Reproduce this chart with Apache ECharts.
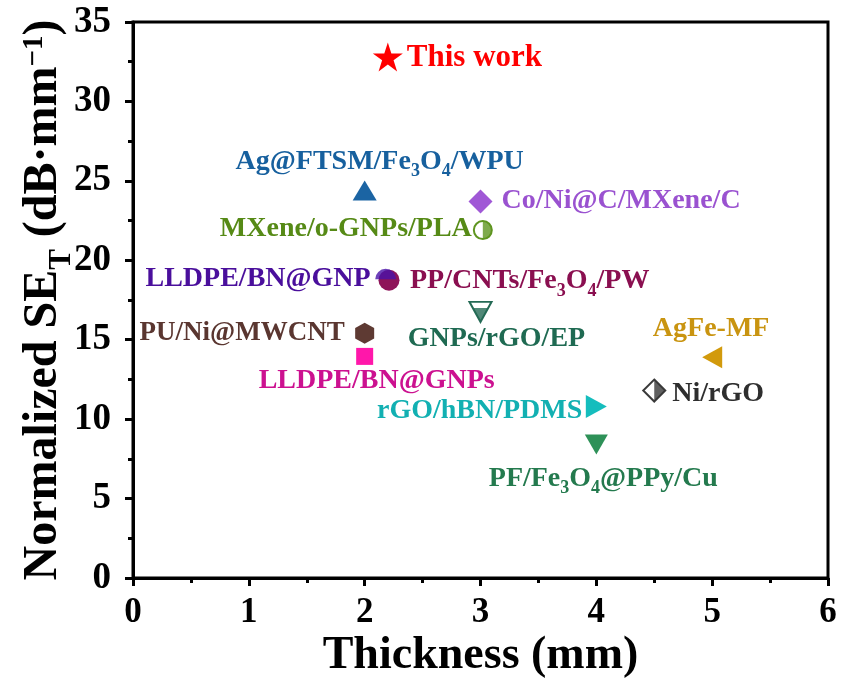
<!DOCTYPE html>
<html><head><meta charset="utf-8">
<script src="https://cdn.jsdelivr.net/npm/echarts@6/dist/echarts.min.js"></script>
<style>html,body{margin:0;padding:0;background:#fff}#c{width:841px;height:682px}</style>
</head><body><div id="c"></div>
<script>
// ---- data ----
const xTicks = [0, 1, 2, 3, 4, 5, 6];
const yTicks = [0, 5, 10, 15, 20, 25, 30, 35];
const materials = ['This work', 'Ag@FTSM/Fe3O4/WPU', 'Co/Ni@C/MXene/C', 'MXene/o-GNPs/PLA',
  'LLDPE/BN@GNP', 'PP/CNTs/Fe3O4/PW', 'GNPs/rGO/EP', 'PU/Ni@MWCNT', 'LLDPE/BN@GNPs',
  'AgFe-MF', 'Ni/rGO', 'rGO/hBN/PDMS', 'PF/Fe3O4@PPy/Cu'];
const thickness = [2.2, 2.0, 3.0, 3.02, 2.19, 2.21, 3.0, 2.0, 2.0, 5.0, 4.5, 4.0, 4.0];
const normalizedSE = [32.8, 24.4, 23.7, 21.9, 18.8, 18.75, 16.75, 15.4, 13.95, 13.9, 11.8, 10.8, 8.4];

// ---- styles ----
const FONT = '"Liberation Serif","Times New Roman",serif';
const STAR = 'path://M0,-1 L0.2245,-0.309 L0.951,-0.309 L0.363,0.118 L0.588,0.809 L0,0.382 L-0.588,0.809 L-0.363,0.118 L-0.951,-0.309 L-0.2245,-0.309 Z';
const HEX = 'path://M0,-1 L0.866,-0.5 L0.866,0.5 L0,1 L-0.866,0.5 L-0.866,-0.5 Z';
const TRI_DOWN = 'path://M0,0 L2,0 L1,2 Z';
const TRI_LEFT = 'path://M0,1 L2,0 L2,2 Z';
const TRI_RIGHT = 'path://M0,0 L2,1 L0,2 Z';
const HALF_RIGHT = 'path://M0,0 A1,1 0 0 1 0,2 Z';
const HALF_TOP = 'path://M0,1 A1,1 0 0 1 2,1 Z';
const HALF_DIAM_RIGHT = 'path://M0,0 L1,1 L0,2 Z';
const NONE_COLOR = 'rgba(0,0,0,0)';

const baseStyle = [
  {symbol: STAR, size: [30, 29], color: '#ff0000'},
  {symbol: 'triangle', size: [24, 20], color: '#1b64a3'},
  {symbol: 'diamond', size: [24, 24], color: '#a058d6'},
  {symbol: 'circle', size: [18, 18], color: '#ffffff', border: '#5f9520'},
  {symbol: 'circle', size: [0, 0], color: NONE_COLOR},
  {symbol: 'circle', size: [21, 21], color: '#8e1459'},
  {symbol: TRI_DOWN, size: [22, 20], color: '#ffffff', border: '#246a55'},
  {symbol: HEX, size: [19, 21], color: '#5e3a33'},
  {symbol: 'rect', size: [17, 17], color: '#ff17aa'},
  {symbol: TRI_LEFT, size: [20, 22], color: '#d29a0c'},
  {symbol: 'diamond', size: [22, 22], color: '#ffffff', border: '#3a3a3a'},
  {symbol: TRI_RIGHT, size: [21, 23], color: '#15bdbd'},
  {symbol: TRI_DOWN, size: [23, 20], color: '#2e9158'}
];
const overlayStyle = {
  3: {symbol: HALF_RIGHT, size: [9, 18], offset: [4.5, 0], color: '#5f9520'},
  4: {symbol: HALF_TOP, size: [21, 10.5], offset: [-1, -5.25], color: '#4a12a8'},
  6: {symbol: TRI_DOWN, size: [15.4, 14], offset: [0, 3], color: '#246a55'},
  10: {symbol: HALF_DIAM_RIGHT, size: [11, 22], offset: [5.5, 0], color: '#3a3a3a'}
};
const labelStyle = [
  {color: '#ff0000', align: 'left', offset: [19, 2], fs: 31},
  {color: '#17609e', align: 'center', offset: [15, -28]},
  {color: '#9a52d0', align: 'left', offset: [21, 0]},
  {color: '#568a16', align: 'right', offset: [-11, 0]},
  {color: '#4a0f9c', align: 'right', offset: [-16, 0]},
  {color: '#8a0f50', align: 'left', offset: [21, 2]},
  {color: '#1f6a52', align: 'center', offset: [16, 28]},
  {color: '#5a3630', align: 'right', offset: [-20, 1], fs: 27},
  {color: '#cc1190', align: 'center', offset: [12, 25]},
  {color: '#c99410', align: 'center', offset: [-1, -27]},
  {color: '#2e2e2e', align: 'left', offset: [18, 4]},
  {color: '#12b0b2', align: 'right', offset: [-14, 5]},
  {color: '#247a4e', align: 'center', offset: [7, 35]}
];

function richName(name) {
  return name.split(/(\d)/).filter(s => s).map(s => /^\d$/.test(s) ? '{s|' + s + '}' : '{n|' + s + '}').join('');
}

const baseData = materials.map((m, i) => {
  const st = baseStyle[i];
  return {
    name: m, value: [thickness[i], normalizedSE[i]],
    symbol: st.symbol, symbolSize: st.size,
    itemStyle: {color: st.color, borderColor: st.border || st.color, borderWidth: st.border ? 2 : 0, opacity: 1}
  };
});
const overlayData = Object.keys(overlayStyle).map(k => {
  const i = +k, st = overlayStyle[k];
  return {
    name: materials[i], value: [thickness[i], normalizedSE[i]],
    symbol: st.symbol, symbolSize: st.size, symbolOffset: st.offset,
    itemStyle: {color: st.color, borderWidth: 0}
  };
});
const labelData = materials.map((m, i) => {
  const ls = labelStyle[i];
  const fs = ls.fs || 28;
  const tok = {fontWeight: 'bold', fontFamily: FONT, color: ls.color, textBorderWidth: 0, opacity: 1};
  return {
    name: m, value: [thickness[i], normalizedSE[i]],
    itemStyle: {color: ls.color, opacity: 0},
    label: {
      show: true, position: 'inside', align: ls.align, verticalAlign: 'middle', offset: ls.offset,
      color: ls.color, opacity: 1, textBorderWidth: 0, textBorderColor: 'transparent',
      formatter: richName(m),
      rich: {
        n: Object.assign({fontSize: fs, lineHeight: fs + 2, verticalAlign: 'top'}, tok),
        s: Object.assign({fontSize: 18, lineHeight: 18, padding: [15, 0, 0, 0], verticalAlign: 'top'}, tok)
      }
    }
  };
});

const axisCommon = {
  axisLine: {show: true, onZero: false, lineStyle: {color: '#000', width: 3}},
  axisTick: {show: true, inside: false, length: 8, lineStyle: {color: '#000', width: 3}},
  minorTick: {show: true, splitNumber: 2, length: 5, lineStyle: {color: '#000', width: 3}},
  splitLine: {show: false},
  minorSplitLine: {show: false},
  nameMoveOverlap: false
};

const chart = echarts.init(document.getElementById('c'), null, {renderer: 'canvas'});
chart.setOption({
  animation: false,
  backgroundColor: '#fff',
  grid: {left: 133, right: 13, top: 22, bottom: 104, containLabel: false, outerBoundsMode: 'none',
    show: true, borderColor: '#000', borderWidth: 3, backgroundColor: 'rgba(0,0,0,0)'},
  xAxis: Object.assign({
    type: 'value', min: xTicks[0], max: xTicks[xTicks.length - 1], interval: 1,
    name: 'Thickness (mm)', nameLocation: 'middle', nameGap: 55,
    nameTextStyle: {fontSize: 46, fontWeight: 'bold', fontFamily: FONT, color: '#000'},
    axisLabel: {fontSize: 35, fontWeight: 'bold', fontFamily: FONT, color: '#000', margin: 17}
  }, axisCommon),
  yAxis: Object.assign({
    type: 'value', min: yTicks[0], max: yTicks[yTicks.length - 1], interval: 5,
    name: '{n|Normalized SE}{s|T}{n| (dB·mm}{p|−1}{n|)}', nameLocation: 'middle', nameGap: 61,
    nameTextStyle: {
      fontSize: 48, fontWeight: 'bold', fontFamily: FONT, color: '#000',
      rich: {
        n: {fontSize: 48, fontWeight: 'bold', fontFamily: FONT, color: '#000', lineHeight: 52, verticalAlign: 'top'},
        s: {fontSize: 31, fontWeight: 'bold', fontFamily: FONT, color: '#000', lineHeight: 31, padding: [26, 0, 0, 0], verticalAlign: 'top'},
        p: {fontSize: 29, fontWeight: 'bold', fontFamily: FONT, color: '#000', lineHeight: 25, verticalAlign: 'top'}
      }
    },
    axisLabel: {fontSize: 37, fontWeight: 'bold', fontFamily: FONT, color: '#000', margin: 22}
  }, axisCommon),
  series: [
    {type: 'scatter', data: baseData, z: 2, silent: true},
    {type: 'scatter', data: overlayData, z: 3, silent: true},
    {type: 'scatter', data: labelData, z: 4, silent: true, symbol: 'circle', symbolSize: 2}
  ]
});
</script>
</body></html>
